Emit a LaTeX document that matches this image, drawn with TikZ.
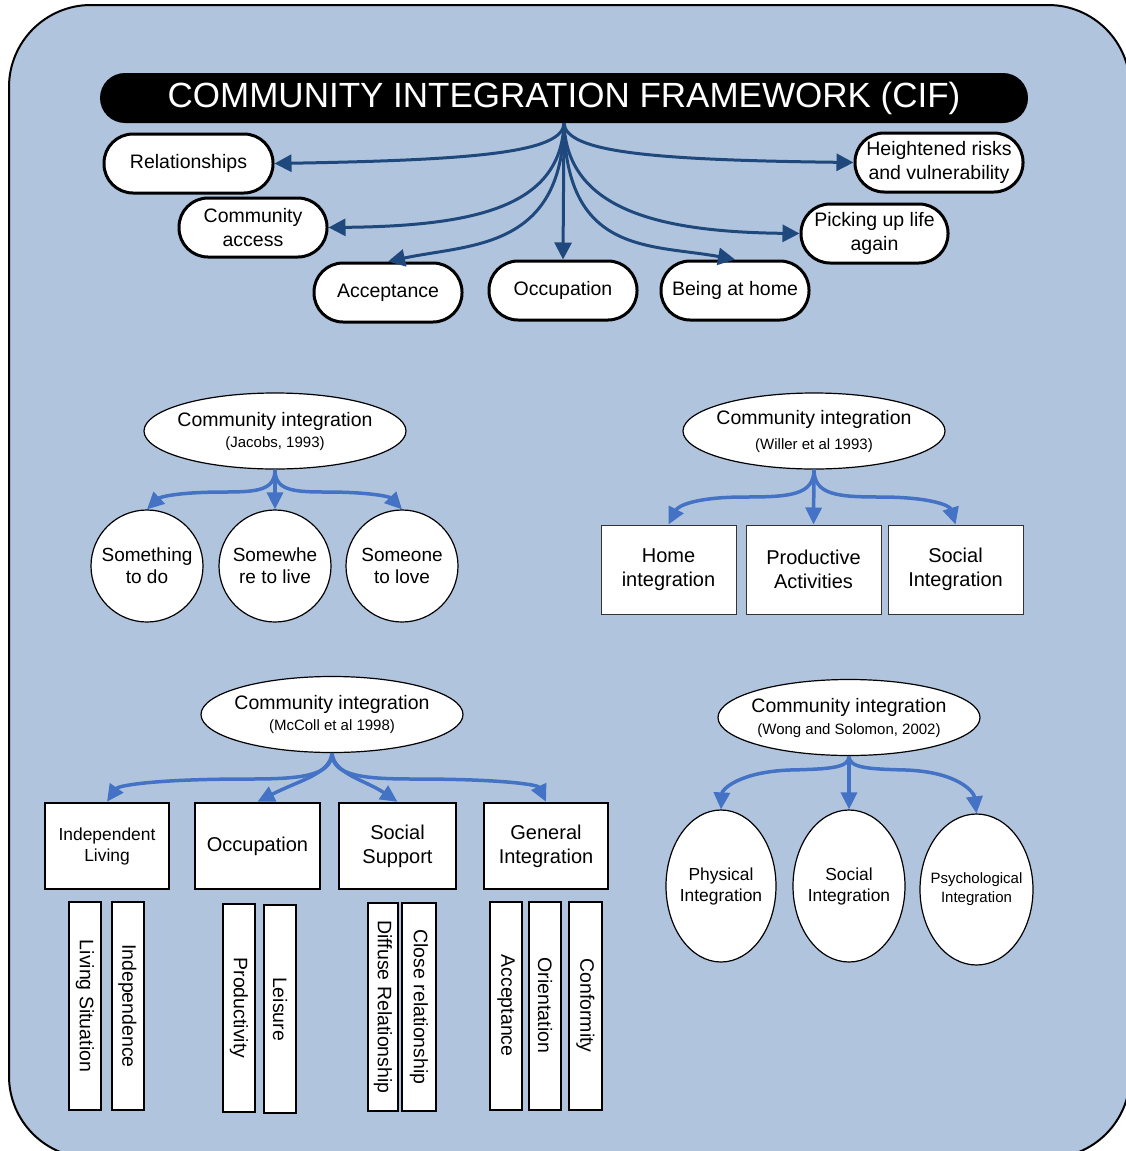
\documentclass[tikz,border=0pt]{standalone}
\usepackage{fontspec}
\setmainfont{Liberation Sans}
\usetikzlibrary{arrows.meta,shapes.geometric}

\definecolor{panelbg}{RGB}{176,196,222}
\definecolor{darkarrow}{RGB}{31,73,125}
\definecolor{lightarrow}{RGB}{68,114,196}

\begin{document}
\begin{tikzpicture}[x=1pt,y=-1pt,
  pill/.style={draw=black, line width=3pt, fill=white, rounded corners=29pt,
    minimum width=#1, minimum height=59pt, inner sep=0pt, align=center,
    font=\fontsize{19.5}{23.5}\selectfont},
  oval/.style={draw=black, line width=1.2pt, fill=white, ellipse,
    minimum width=262pt, minimum height=76pt, inner xsep=-8pt, inner ysep=0pt,
    align=center, font=\fontsize{19.5}{22}\selectfont},
  ball/.style={draw=black, line width=1.2pt, fill=white, circle,
    minimum size=112pt, inner sep=0pt, align=center,
    font=\fontsize{19}{22}\selectfont},
  thinbox/.style={draw=black!80, line width=1pt, fill=white,
    minimum width=135pt, minimum height=89pt, inner sep=0pt, align=center,
    font=\fontsize{20}{24}\selectfont},
  thickbox/.style={draw=black, line width=2.5pt, fill=white,
    minimum width=#1, minimum height=86pt, inner sep=0pt, align=center,
    font=\fontsize{20}{24}\selectfont},
  egg/.style={draw=black, line width=1.2pt, fill=white, ellipse,
    minimum width=#1, minimum height=152pt, inner xsep=-6pt, inner ysep=0pt,
    align=center, font=\fontsize{17.4}{21}\selectfont},
  bar/.style={draw=black, line width=2pt, fill=white, rotate=-90,
    minimum width=208pt, minimum height=32pt, inner sep=0pt,
    font=\fontsize{19.5}{23}\selectfont},
  darkedge/.style={draw=darkarrow, line width=3pt,
    -{Triangle[length=17pt,width=17pt]}},
  lightedge/.style={draw=lightarrow, line width=3.5pt,
    -{Triangle[length=17pt,width=16pt]}}
]
\useasboundingbox (0,0) rectangle (1125,1151);

% panel
\draw[fill=panelbg, line width=2pt, rounded corners=82pt] (9,5) rectangle (1130,1158);

% title bar
\node[fill=black, rounded corners=25pt, minimum width=928pt, minimum height=50pt,
  inner sep=0pt, text=white, font=\fontsize{35}{40}\selectfont] (title) at (564,98)
  {COMMUNITY INTEGRATION FRAMEWORK (CIF)};
\coordinate (root) at (title.south);

% framework elements
\node[pill=169pt] (rel)  at (188.5,163.5) {Relationships};
\node[pill=148pt] (cacc) at (253,227.5) {Community\\access};
\node[pill=148pt] (acc)  at (388,292.5) {Acceptance};
\node[pill=148pt] (occ)  at (563,290.5) {Occupation};
\node[pill=148pt] (home) at (735,290.5) {Being at home};
\node[pill=147pt] (pick) at (874.5,233.5) {Picking up life\\again};
\node[pill=168pt] (risk) at (939,162.5) {Heightened risks\\and vulnerability};

\draw[darkedge] (root) .. controls (563,152) and (480,160) .. (rel.east);
\draw[darkedge] (root) .. controls (561,205) and (480,226) .. (cacc.east);
\draw[darkedge] (root) .. controls (562,250) and (470,244) .. (acc.north);
\draw[darkedge] (root) -- (occ.north);
\draw[darkedge] (root) .. controls (566,255) and (650,244) .. (home.north);
\draw[darkedge] (root) .. controls (567,210) and (660,232) .. (pick.west);
\draw[darkedge] (root) .. controls (566,152) and (650,160) .. (risk.west);

% Jacobs 1993
\node[oval] (jac) at (275,431) {Community integration\\[-1pt]{\fontsize{15}{22}\selectfont(Jacobs, 1993)}};
\node[ball] (todo) at (147,566) {Something\\to do};
\node[ball] (live) at (275,566) {Somewhe\\re to live};
\node[ball] (love) at (402,566) {Someone\\to love};
\draw[lightedge] (jac.south) .. controls (275,490) and (258,492) .. (225,492)
  .. controls (178,492) and (160,497) .. (todo.north);
\draw[lightedge] (jac.south) -- (live.north);
\draw[lightedge] (jac.south) .. controls (275,490) and (292,492) .. (325,492)
  .. controls (372,492) and (390,497) .. (love.north);

% Willer et al 1993
\node[oval] (wil) at (814,431) {Community integration\\[3pt]{\fontsize{15}{22}\selectfont(Willer et al 1993)}};
\node[thinbox] (hom) at (668.5,569.5) {Home\\integration};
\node[thinbox] (pro) at (813.5,569.5) {Productive\\Activities};
\node[thinbox] (soc) at (955.5,569.5) {Social\\Integration};
\draw[lightedge] (wil.south) .. controls (814,495) and (790,497) .. (745,497)
  .. controls (695,497) and (678,506) .. (hom.north);
\draw[lightedge] (wil.south) -- (pro.north);
\draw[lightedge] (wil.south) .. controls (814,495) and (838,497) .. (880,497)
  .. controls (932,497) and (950,506) .. (soc.north);

% McColl et al 1998
\node[oval] (mcc) at (332,714.5) {Community integration\\[-1pt]{\fontsize{15}{22}\selectfont(McColl et al 1998)}};
\node[thickbox=124pt, font=\fontsize{17.4}{21}\selectfont] (ind) at (107,846) {Independent\\Living};
\node[thickbox=125pt] (mocc) at (257.5,846) {Occupation};
\node[thickbox=117pt] (ssup) at (397.5,846) {Social\\Support};
\node[thickbox=124pt] (gen)  at (546,846) {General\\Integration};
\draw[lightedge] (mcc.south) .. controls (332,776) and (300,779) .. (250,779)
  .. controls (150,779) and (118,786) .. (ind.north);
\draw[lightedge] (mcc.south) .. controls (330,774) and (300,780) .. (mocc.north);
\draw[lightedge] (mcc.south) .. controls (334,774) and (365,780) .. (ssup.north);
\draw[lightedge] (mcc.south) .. controls (332,776) and (364,779) .. (414,779)
  .. controls (505,779) and (538,785) .. (gen.north);

% McColl sub-dimensions
\node[bar] (lsit) at (85,1006) {Living Situation};
\node[bar] (inde) at (127.5,1006) {Independence};
\node[bar] (prod) at (239,1008) {Productivity};
\node[bar] (leis) at (280,1009) {Leisure};
\node[bar, minimum height=30pt] (diff) at (383,1007) {Diffuse Relationship};
\node[bar, minimum height=34pt] (clos) at (419,1007) {Close relationship};
\node[bar] (macc) at (506,1005.5) {Acceptance};
\node[bar] (orie) at (545,1005.5) {Orientation};
\node[bar, minimum height=33pt] (conf) at (585.5,1005.5) {Conformity};

% Wong and Solomon 2002
\node[oval] (won) at (849,717.5) {Community integration\\[0pt]{\fontsize{15}{22}\selectfont(Wong and Solomon, 2002)}};
\node[egg=110pt] (phy) at (721,886) {Physical\\Integration};
\node[egg=112pt] (wsoc) at (849,886) {Social\\Integration};
\node[egg=113pt, minimum height=151pt, inner xsep=-8pt, font=\fontsize{15}{19}\selectfont] (psy) at (976.5,889.5) {Psychological\\Integration};
\draw[lightedge] (won.south) .. controls (849,768) and (830,769) .. (790,770)
  .. controls (738,772) and (722,790) .. (phy.north);
\draw[lightedge] (won.south) -- (wsoc.north);
\draw[lightedge] (won.south) .. controls (849,768) and (868,769) .. (906,770)
  .. controls (958,772) and (974,792) .. (psy.north);

\end{tikzpicture}
\end{document}
